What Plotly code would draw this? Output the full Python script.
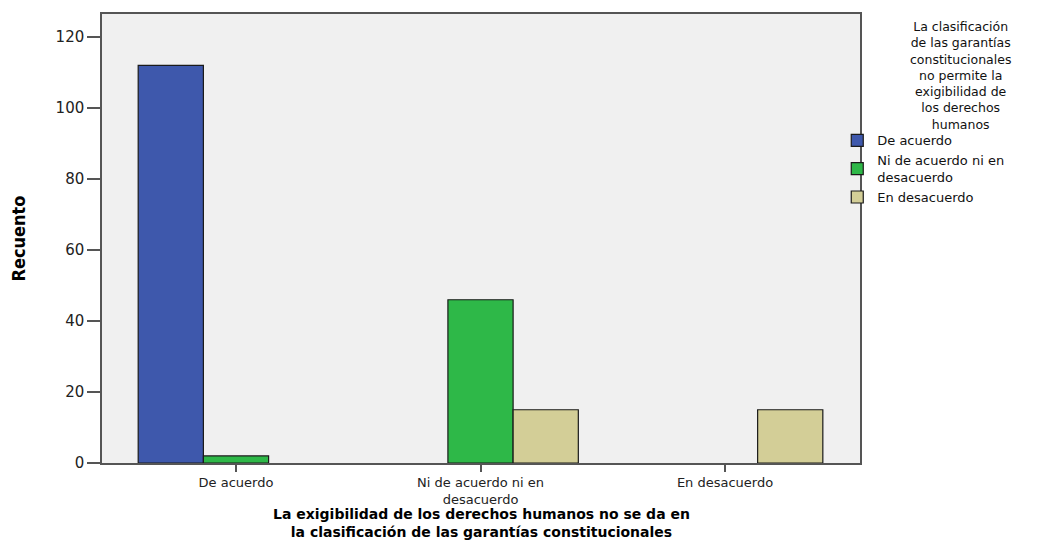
import plotly.graph_objects as go

# --- Données ---
categories = ["De acuerdo", "Ni de acuerdo ni en<br>desacuerdo", "En desacuerdo"]
series_names = ["De acuerdo", "Ni de acuerdo ni en<br>desacuerdo", "En desacuerdo"]
# None = barre absente (aucun cas)
de_acuerdo = [112, None, None]
ni_de_acuerdo = [2, 46, None]
en_desacuerdo = [None, 15, 15]
y_ticks = [0, 20, 40, 60, 80, 100, 120]

legend_title = ("La clasificación<br>de las garantías<br>constitucionales<br>no permite la"
                "<br>exigibilidad de<br>los derechos<br>humanos")
x_title = ("<b>La exigibilidad de los derechos humanos no se da en<br>"
           "la clasificación de las garantías constitucionales</b>")

colors = ["#3e58ac", "#2eb848", "#d3ce97"]
series_values = [de_acuerdo, ni_de_acuerdo, en_desacuerdo]

fig = go.Figure()

for name, values, color in zip(series_names, series_values, colors):
    fig.add_trace(
        go.Bar(
            x=categories,
            y=values,
            name=name,
            marker=dict(color=color, line=dict(color="#1a1a1a", width=1.2)),
        )
    )

# Titre de la légende (centré, comme SPSS)
fig.add_annotation(
    text=legend_title,
    xref="paper", yref="paper",
    x=1.133, y=0.99,
    xanchor="center", yanchor="top",
    align="center",
    showarrow=False,
    borderpad=0,
    font=dict(family="DejaVu Sans", size=12.5, color="#111111"),
)

# Titre de l'axe X (deux lignes, centré sous le graphique)
fig.add_annotation(
    text=x_title,
    xref="paper", yref="paper",
    x=0.5, y=-0.0935,
    xanchor="center", yanchor="top",
    align="center",
    showarrow=False,
    borderpad=0,
    font=dict(family="DejaVu Sans", size=14, color="#000000"),
)

# le body de la page ajoute 8px de marge : on compense
fig.update_layout(
    width=1050, height=533,
    barmode="group",
    bargap=0.2,
    bargroupgap=0,
    paper_bgcolor="white",
    plot_bgcolor="#f0f0f0",
    margin=dict(l=94, r=198, t=6, b=78, autoexpand=False),
    font=dict(family="DejaVu Sans", size=13, color="#222222"),
    showlegend=True,
    legend=dict(
        x=0.97, xanchor="left",
        y=0.752, yanchor="top",
        bgcolor="rgba(0,0,0,0)",
        font=dict(family="DejaVu Sans", size=13, color="#111111"),
        tracegroupgap=0,
        itemwidth=30,
    ),
    xaxis=dict(
        range=[-0.548, 2.552],
        automargin=False,
        showline=True, linecolor="#555555", linewidth=1.5, mirror=True,
        ticks="outside", ticklen=7, tickcolor="#555555", tickwidth=1.5,
        tickfont=dict(family="DejaVu Sans", size=13, color="#222222"),
    ),
    yaxis=dict(
        range=[0, 126.5],
        tickvals=y_ticks,
        automargin=False,
        showgrid=False, zeroline=False,
        showline=True, linecolor="#555555", linewidth=1.5, mirror=True,
        ticks="outside", ticklen=13, tickcolor="#555555", tickwidth=1.5,
        tickfont=dict(family="DejaVu Sans", size=15, color="#222222"),
        title=dict(
            text="<b>Recuento</b>",
            font=dict(family="DejaVu Sans Condensed, Liberation Sans Narrow, DejaVu Sans", size=18, color="#000000"),
            standoff=26,
        ),
    ),
)

fig.write_html("out.html")
